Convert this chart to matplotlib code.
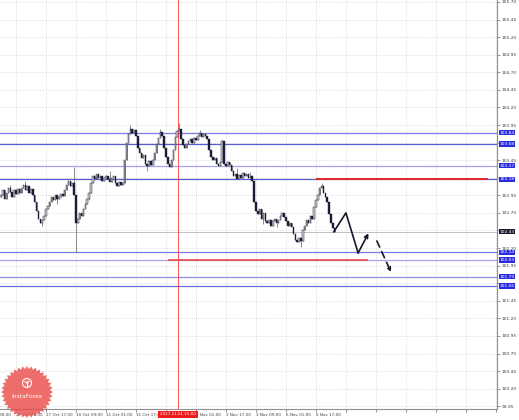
import matplotlib
matplotlib.use('Agg')
import matplotlib.pyplot as plt
import numpy as np

# hourly closes (bar 0 = left edge)
closes = [102.95, 103.02, 102.90, 102.98, 103.05, 103.00, 102.92, 103.03, 102.97, 103.04, 102.99,
          103.05, 103.10, 103.02, 103.08, 102.98, 103.04, 102.95,
          102.85, 102.72, 102.62, 102.55, 102.60,
          102.66, 102.75,
          102.80, 102.86, 102.92, 102.88, 102.95, 102.90, 102.93, 102.97, 102.94,
          103.02, 103.10, 103.15, 103.08, 103.12,
          102.95, 102.55,
          102.62, 102.70, 102.66, 102.75, 102.82, 102.90,
          102.98, 103.12, 103.22, 103.18, 103.25,
          103.20, 103.23, 103.16, 103.19, 103.22, 103.18, 103.14, 103.20, 103.23,
          103.12, 103.08, 103.14, 103.10, 103.13,
          103.45, 103.70, 103.82,
          103.90, 103.84, 103.88, 103.80,
          103.62, 103.55, 103.48, 103.52, 103.40, 103.36,
          103.44, 103.38, 103.45,
          103.55, 103.68, 103.76, 103.85, 103.80,
          103.62, 103.50, 103.40, 103.35, 103.45,
          103.60, 103.78, 103.86, 103.90,
          103.75, 103.66, 103.62, 103.68,
          103.72, 103.75, 103.70, 103.76, 103.74,
          103.80, 103.84, 103.78, 103.82, 103.79, 103.75,
          103.60, 103.50, 103.45, 103.48,
          103.40, 103.36, 103.42,
          103.72,
          103.40, 103.36, 103.42, 103.38,
          103.30, 103.22, 103.26, 103.18, 103.24, 103.20, 103.27, 103.22, 103.25, 103.19, 103.22, 103.15,
          102.85, 102.72,
          102.68, 102.76, 102.62, 102.70, 102.58,
          102.55, 102.60, 102.52, 102.58, 102.62, 102.56, 102.60,
          102.66, 102.70, 102.64,
          102.58, 102.52, 102.56, 102.50,
          102.40, 102.32, 102.28, 102.35, 102.30,
          102.45, 102.52, 102.60, 102.55, 102.66, 102.62,
          102.78, 102.88, 102.95, 103.05, 103.08,
          102.98, 102.92, 102.85,
          102.68, 102.55, 102.48, 102.43]
first_open = 102.92
# visible wicks sticking out of the bodies
wick_bars = [5, 13, 22, 30, 39, 40, 47, 58, 69, 78, 85, 95, 106, 118, 126, 133, 140, 147, 160, 171]
wick_prices = [103.10, 103.15, 102.52, 102.82, 103.35, 102.14, 102.88, 103.30, 103.95, 103.30,
               103.90, 103.98, 103.88, 103.74, 103.34, 103.28, 102.54, 102.50, 102.22, 103.12]

levels = [103.84, 103.68, 103.37, 103.18, 102.14, 102.03, 101.79, 101.66]
level_labels = ['103.84', '103.68', '103.37', '103.18', '102.14', '102.03', '101.79', '101.66']
level_colors = ['#7a7ae6', '#5a5ad6', '#a4a4f0', '#5a5ad6', '#7a7ae6', '#a4a4f0', '#8c8cec', '#6a6ae0']
current_price = 102.43

red_vline_bar = 94.5
red_vline_label = '2017.11.01 15:00'
red_upper = [103.18, 168, 260]
red_lower = [102.03, 89, 196]

proj_x = [177.5, 184, 190.5, 196]
proj_y = [102.43, 102.70, 102.13, 102.41]
dash_x = [200.5, 208]
dash_y = [102.30, 101.86]

tick_bars = [8, 24, 40, 56, 72, 88, 104, 120, 136, 152, 168, 184, 200, 216, 232, 248, 264]
tick_labels = ['27 Oct 01:00', '27 Oct 17:00', '30 Oct 09:00', '31 Oct 01:00', '31 Oct 17:00',
               '', '2 Nov 01:00', '2 Nov 17:00', '3 Nov 09:00', '6 Nov 01:00',
               '6 Nov 17:00', '', '', '', '', '', '']
price_ticks = np.arange(99.95, 105.71, 0.25)
# scale labels hidden behind the level boxes
hidden_price_labels = ['103.70', '103.20', '102.45', '101.70']

W, H = 519, 420
fig = plt.figure(figsize=(W / 100, H / 100), dpi=100)
fig.patch.set_facecolor('white')
ax = fig.add_axes([0, 11 / H, 497 / W, 409 / H])
ax.set_facecolor('white')

ax.set_xlim(-0.5, 497 / 1.875 - 0.5)
ax.set_ylim(99.911, 105.728)

# grid
ax.set_yticks(price_ticks)
ax.set_yticklabels(['' if '%.2f' % p in hidden_price_labels else '%.2f' % p for p in price_ticks])
ax.set_xticks(tick_bars)
ax.set_xticklabels(tick_labels)
ax.grid(True, color='#c4c4c4', lw=0.5, ls=(0, (1, 2)))
ax.yaxis.tick_right()
ax.tick_params(axis='y', labelsize=3.2, length=2, width=0.4, pad=1.2, colors='#404040')
ax.tick_params(axis='x', labelsize=3.0, length=2, width=0.4, pad=0.6, colors='#404040')
for lab in ax.get_xticklabels():
    lab.set_ha('left')
for s in ['left', 'top']:
    ax.spines[s].set_visible(False)
ax.spines['right'].set_color('#909090')
ax.spines['bottom'].set_color('#909090')
ax.spines['right'].set_linewidth(0.8)
ax.spines['bottom'].set_linewidth(0.8)
fig.text(0, 5.5 / H, '09:00', fontsize=3.0, color='#404040', ha='left', va='center')

# level lines
for lv, col in zip(levels, level_colors):
    ax.axhline(lv, color=col, lw=0.9, zorder=2)
ax.axhline(current_price, color='#b4b4c4', lw=0.6, zorder=2)

ax.axvline(red_vline_bar, color='#ff3a3a', lw=0.6, zorder=2)
ax.hlines(red_upper[0], red_upper[1], red_upper[2], color='#e02828', lw=1.4, zorder=4)
ax.hlines(red_lower[0], red_lower[1], red_lower[2], color='#f04848', lw=1.2, zorder=4)

# candles
x = np.arange(len(closes))
c = np.array(closes)
o = np.array([first_open] + closes[:-1])
hi = np.maximum(o, c)
lo = np.minimum(o, c)
for b, p in zip(wick_bars, wick_prices):
    hi[b] = max(hi[b], p)
    lo[b] = min(lo[b], p)
ax.vlines(x, lo, hi, color='#7a7a7a', lw=0.6, zorder=3)
body_lo = np.minimum(o, c)
body_h = np.maximum(np.abs(c - o), 0.012)
up = c >= o
ax.bar(x[up], body_h[up], bottom=body_lo[up], width=0.85, color='#cfcfd8',
       edgecolor='#2a2a3a', lw=0.35, zorder=3)
ax.bar(x[~up], body_h[~up], bottom=body_lo[~up], width=0.85, color='#1c1c38',
       edgecolor='#1c1c38', lw=0.3, zorder=3)

# forecast path
ax.plot(proj_x[:-1], proj_y[:-1], color='#151528', lw=1.2, zorder=5, solid_capstyle='round')
ax.annotate('', xy=(proj_x[-1], proj_y[-1]), xytext=(proj_x[-2], proj_y[-2]),
            arrowprops=dict(arrowstyle='->', color='#151528', lw=1.2, shrinkA=0, shrinkB=0,
                            mutation_scale=6), zorder=5)
ax.annotate('', xy=(dash_x[1], dash_y[1]), xytext=(dash_x[0], dash_y[0]),
            arrowprops=dict(arrowstyle='->', color='#151528', lw=1.2, ls=(0, (4, 3)),
                            shrinkA=0, shrinkB=0, mutation_scale=6), zorder=5)

# price boxes on the right scale
for lv, lab in zip(levels, level_labels):
    ax.annotate(lab, xy=(1.0, lv), xycoords=('axes fraction', 'data'), xytext=(1.8, 0),
                textcoords='offset points', fontsize=3.2, color='white', va='center', ha='left',
                bbox=dict(boxstyle='square,pad=0.12', fc='#2a2ae0', ec='none'),
                annotation_clip=False, zorder=6)
ax.annotate('%.2f' % current_price, xy=(1.0, current_price), xycoords=('axes fraction', 'data'),
            xytext=(1.8, 0), textcoords='offset points', fontsize=3.2, color='white', va='center',
            ha='left', bbox=dict(boxstyle='square,pad=0.12', fc='#181830', ec='none'),
            annotation_clip=False, zorder=6)
ax.annotate(red_vline_label, xy=(red_vline_bar, 0), xycoords=('data', 'axes fraction'),
            xytext=(0, -3.9), textcoords='offset points', fontsize=3.0, color='white',
            ha='center', va='center',
            bbox=dict(boxstyle='square,pad=0.45', fc='#ee1c1c', ec='none'),
            annotation_clip=False, zorder=6)

# InstaForex badge
lax = fig.add_axes([0, 0, 60 / W, 60 / H])
lax.set_xlim(0, 60)
lax.set_ylim(0, 60)
lax.axis('off')
ang = np.linspace(0, 2 * np.pi, 73)
rad = np.where(np.arange(73) % 2 == 0, 26, 23)
lax.fill(27 + rad * np.cos(ang), 28 + rad * np.sin(ang), color='#ea4a46', alpha=0.8, lw=0)
lax.add_patch(plt.Circle((27, 37), 4.5, color='white', fill=False, lw=0.8))
lax.plot([27, 27], [33.5, 39], color='white', lw=0.9)
lax.plot([24.8, 27, 29.2], [38.5, 36.5, 38.5], color='white', lw=0.7)
lax.text(27, 24, 'InstaForex', fontsize=4.3, color='white', ha='center', va='center')

fig.savefig('out.png', dpi=100)
